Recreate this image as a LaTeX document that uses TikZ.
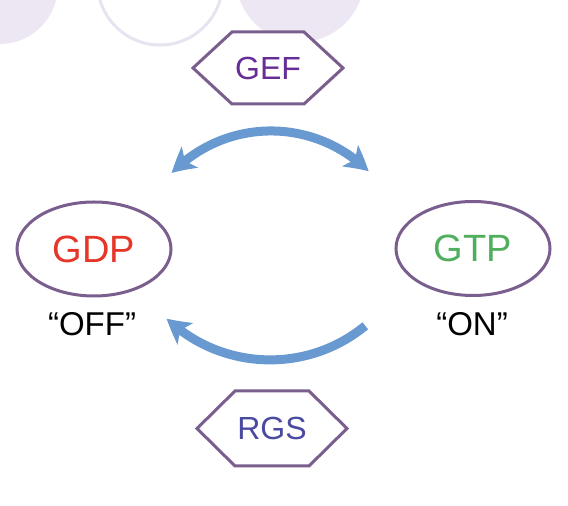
\documentclass[tikz,border=0pt]{standalone}
\usepackage{fontspec}
\setmainfont{Liberation Sans}
\usetikzlibrary{arrows.meta,bending,shapes.geometric}
\definecolor{lav}{RGB}{236,231,243}
\definecolor{lavline}{RGB}{232,227,240}
\definecolor{hexline}{RGB}{122,94,142}
\definecolor{gefcol}{RGB}{102,45,150}
\definecolor{rgscol}{RGB}{74,74,160}
\definecolor{gdpcol}{RGB}{229,54,40}
\definecolor{gtpcol}{RGB}{80,175,95}
\definecolor{arrcol}{RGB}{104,153,208}
\tikzset{
  hexlabel/.style={inner sep=0pt, font=\fontsize{32}{38}\selectfont},
  hexborder/.style={draw=hexline, line width=3pt, fill=white, line join=miter},
  state/.style={ellipse, draw=hexline, line width=3pt, fill=white, minimum width=154pt, minimum height=94pt, inner sep=0pt, font=\fontsize{38}{44}\selectfont},
  caption/.style={inner sep=0pt, font=\fontsize{33}{38}\selectfont},
  cyclearrow/.style={draw=arrcol, line width=9pt, arrows={-Stealth[length=24pt,width=26pt,inset=6pt,bend]}},
  cyclearrows/.style={draw=arrcol, line width=9pt, arrows={Stealth[length=24pt,width=26pt,inset=6pt,bend]-Stealth[length=24pt,width=26pt,inset=6pt,bend]}}
}
\begin{document}
\begin{tikzpicture}[x=1pt,y=1pt]
\useasboundingbox (0,0) rectangle (568,506);
% background circles
\fill[lav] (0,519.6) circle[radius=57.6];
\fill[lav] (300,528) circle[radius=64];
\draw[lavline, line width=3pt, fill=white] (160,523.5) circle[radius=62.5];
% hexagons
\coordinate (gefc) at (268,438);
\coordinate (rgsc) at (272,77.5);
\draw[hexborder] ([shift={(-75,0)}]gefc) -- ([shift={(-36,36)}]gefc) -- ([shift={(36,36)}]gefc) -- ([shift={(75,0)}]gefc) -- ([shift={(36,-36)}]gefc) -- ([shift={(-36,-36)}]gefc) -- cycle;
\node[hexlabel, text=gefcol] (gef) at (gefc) {GEF};
\draw[hexborder] ([shift={(-75,0)}]rgsc) -- ([shift={(-37,37.5)}]rgsc) -- ([shift={(37,37.5)}]rgsc) -- ([shift={(75,0)}]rgsc) -- ([shift={(37,-37.5)}]rgsc) -- ([shift={(-37,-37.5)}]rgsc) -- cycle;
\node[hexlabel, text=rgscol] (rgs) at (rgsc) {RGS};
% states
\node[state, text=gdpcol] (gdp) at (94,257) {GDP};
\node[state, text=gtpcol] (gtp) at (473,257.5) {GTP};
\node[caption] (off) at (92,182) {“OFF”};
\node[caption] (on) at (472,182) {“ON”};
% arrows
\coordinate (tL) at (171.7,332.9);
\coordinate (bR) at (365.3,180.2);
\draw[cyclearrows] (tL) arc[start angle=136, end angle=45, radius=138];
\draw[cyclearrow] (bR) arc[start angle=-50.6, end angle=-133.6, radius=150];
\end{tikzpicture}
\end{document}
